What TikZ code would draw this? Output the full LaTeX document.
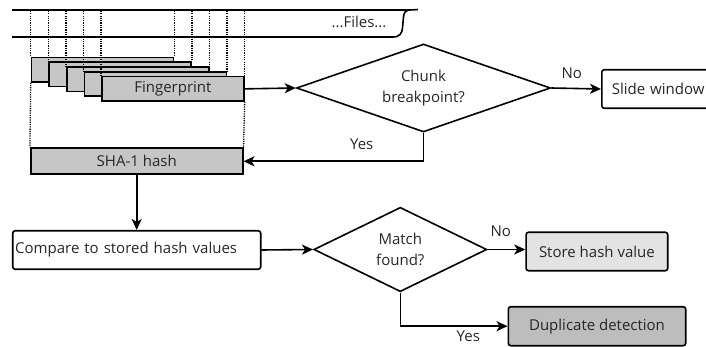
\documentclass[tikz,border=0pt]{standalone}
\usepackage{fontspec}
\setmainfont{Open Sans}
\usetikzlibrary{shapes.geometric,arrows.meta}
\definecolor{chunkgray}{HTML}{C6C6C6}
\definecolor{storegray}{HTML}{E3E3E3}
\definecolor{dupgray}{HTML}{BDBDBD}
\definecolor{inkgray}{HTML}{262626}
\tikzset{
  every node/.style={font=\fontsize{15}{17}\selectfont, text=inkgray},
  line/.style={line width=1.6pt, draw=black},
  arrow/.style={line, -{Stealth[length=11pt,width=10pt,inset=3pt]}},
  dots/.style={line width=1.3pt, dash pattern=on 1.2pt off 1.1pt},
  chunkbox/.style={draw, line width=1.6pt, fill=chunkgray, minimum width=142pt,
    minimum height=24.3pt, inner sep=0pt, anchor=north west},
  roundbox/.style={draw, line width=1.6pt, rounded corners=2.5pt, minimum height=38.5pt},
  decision/.style={draw, diamond, line width=1.6pt, inner sep=0pt, align=center,
    font=\fontsize{15}{21}\selectfont}
}
\begin{document}
\begin{tikzpicture}[x=1pt, y=-1pt]
\useasboundingbox (0,0) rectangle (706,347);
\clip (0,0) rectangle (706,347);

% strip of files with a torn right edge
\draw[line width=1.6pt] (12,10) -- (408,10) .. controls (414,10) and (417,9.5) .. (418,9.5);
\draw[line width=1.6pt] (12,37) -- (393,37) .. controls (400,37) and (402,33) .. (402.5,28)
  -- (403.5,17) .. controls (404,13) and (405,11) .. (408,10);
\node (files) at (359,22) {...Files...};
\coordinate (striptop) at (0,11);

% sliding fingerprint windows
\foreach \i in {0,...,4}{
  \node[chunkbox] (b\i) at ({30.7+17.6*\i},{56.7+4.8*\i}) {};
}
\node at (b4) {Fingerprint};
\foreach \i in {0,...,4}{
  \draw[dots] (b\i.north west |- striptop) -- (b\i.north west);
  \draw[dots] (b\i.north east |- striptop) -- (b\i.north east);
}

% hash of the chunk
\node[chunkbox, anchor=center, minimum width=212pt, minimum height=26pt] (sha) at (136.7,161.3) {SHA-1 hash};
\draw[dots] (b0.south west) -- (sha.north west);
\draw[dots] (b4.south east) -- (sha.north east);

% breakpoint test
\node[decision, minimum width=254pt, minimum height=88pt, shape aspect=2.9] (chunk) at (423.5,88) {Chunk\\breakpoint?};
\node[roundbox, anchor=west, text width=95pt, inner xsep=10pt, align=left] (slide) at (601,89) {Slide window};

% comparison stage
\node[roundbox, text width=243pt, inner xsep=2.5pt, align=left] (cmp) at (136.7,250) {Compare to stored hash values};
\node[decision, minimum width=173pt, minimum height=84.4pt, shape aspect=2] (match) at (400.3,249.5) {Match\\found?};
\node[roundbox, fill=storegray, minimum width=141.7pt] (store) at (596.9,251.5) {Store hash value};
\node[roundbox, fill=dupgray, minimum width=177.4pt, minimum height=39pt] (dup) at (597,326.2) {Duplicate detection};

% connectors
\draw[arrow] (b4.east) -- (chunk.west);
\draw[arrow] (chunk.east) -- (slide.west);
\node (no1) at (571.7,73) {No};
\draw[arrow] (chunk.south) |- (sha.east);
\node (yes1) at (361.7,144) {Yes};
\draw[arrow] (sha.south) -- (cmp.north);
\draw[arrow] (cmp.east) -- (match.west);
\draw[arrow] (match.east) -- (match.east -| store.west);
\node (no2) at (500.7,231.7) {No};
\draw[arrow] (match.south) |- (dup.west);
\node (yes2) at (468.3,336) {Yes};
\end{tikzpicture}
\end{document}
